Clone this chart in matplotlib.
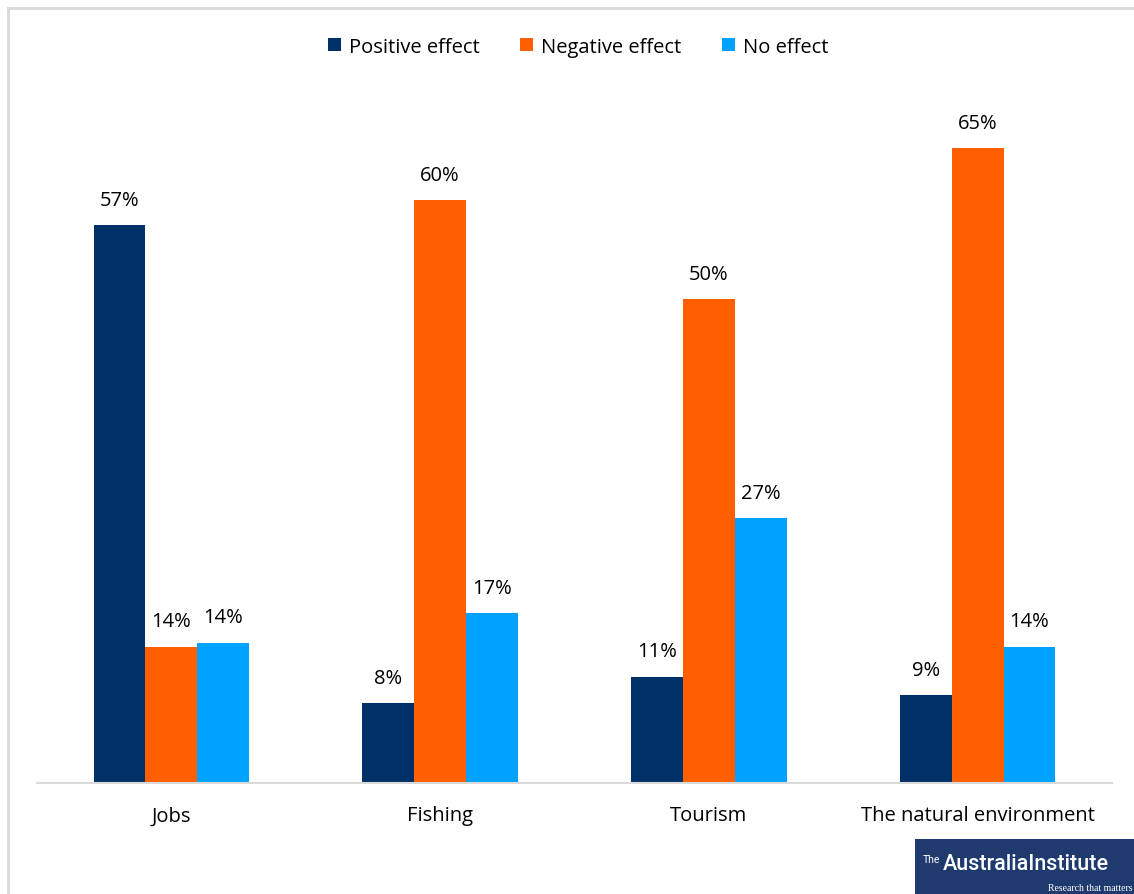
import matplotlib.pyplot as plt
from matplotlib.patches import Rectangle
from matplotlib.lines import Line2D
import numpy as np

plt.rcParams['font.family'] = ['Open Sans', 'DejaVu Sans']

categories = ["Jobs", "Fishing", "Tourism", "The natural environment"]
series_names = ["Positive effect", "Negative effect", "No effect"]
positive = [57.2, 8.2, 10.9, 9.0]
negative = [14.0, 59.8, 49.6, 65.1]
no_effect = [14.4, 17.4, 27.2, 14.0]
colors = ["#003068", "#ff5f00", "#00a2ff"]

fig = plt.figure(figsize=(11.34, 8.95), dpi=100)
ax = fig.add_axes([37 / 1134, 111 / 895, 1075 / 1134, 682.5 / 895])

x = np.arange(len(categories))
w = 0.193
for i, (name, vals) in enumerate(zip(series_names, [positive, negative, no_effect])):
    pos = x + (i - 1) * w
    ax.bar(pos, vals, width=w, color=colors[i], label=name)
    for p, v in zip(pos, vals):
        ax.annotate(f"{round(v)}%", (p, v), xytext=(0, 11), textcoords="offset points",
                    ha="center", va="bottom", fontsize=14.5, color="#000000")

ax.set_xlim(-0.5, 3.5)
ax.set_ylim(0, 70)
ax.set_xticks(x)
ax.set_xticklabels(categories, fontsize=14.5)
ax.tick_params(axis="x", length=0, pad=16)
ax.set_yticks([])
for s in ["top", "right", "left"]:
    ax.spines[s].set_visible(False)
ax.spines["bottom"].set_color("#d9d9d9")
ax.spines["bottom"].set_linewidth(1.5)

fig.legend(loc="upper center", bbox_to_anchor=(0.51, 0.978), ncol=3, frameon=False,
           fontsize=14.5, handlelength=0.65, handleheight=0.65, handletextpad=0.4,
           columnspacing=2.0)

# outer border (left and top only are in view)
fig.lines.append(Line2D([8 / 1134, 8 / 1134], [0, 886 / 895], transform=fig.transFigure,
                        color="#d9d9d9", linewidth=2))
fig.lines.append(Line2D([8 / 1134, 1], [886 / 895, 886 / 895], transform=fig.transFigure,
                        color="#d9d9d9", linewidth=2))

# logo
fig.patches.append(Rectangle((915 / 1134, 0), 219 / 1134, 55 / 895, transform=fig.transFigure,
                             facecolor="#1e3a6e", edgecolor="none"))
fig.text(923 / 1134, 35 / 895, "The", color="white", fontsize=7.5, va="center", ha="left",
         family="Roboto")
fig.text(943 / 1134, 30 / 895, "AustraliaInstitute", color="white", fontsize=15.5,
         va="center", ha="left", family="Roboto", fontweight="medium")
fig.text(1132 / 1134, 6 / 895, "Research that matters", color="white", fontsize=7,
         va="center", ha="right", family="Liberation Serif")

fig.savefig("out.png", dpi=100)
